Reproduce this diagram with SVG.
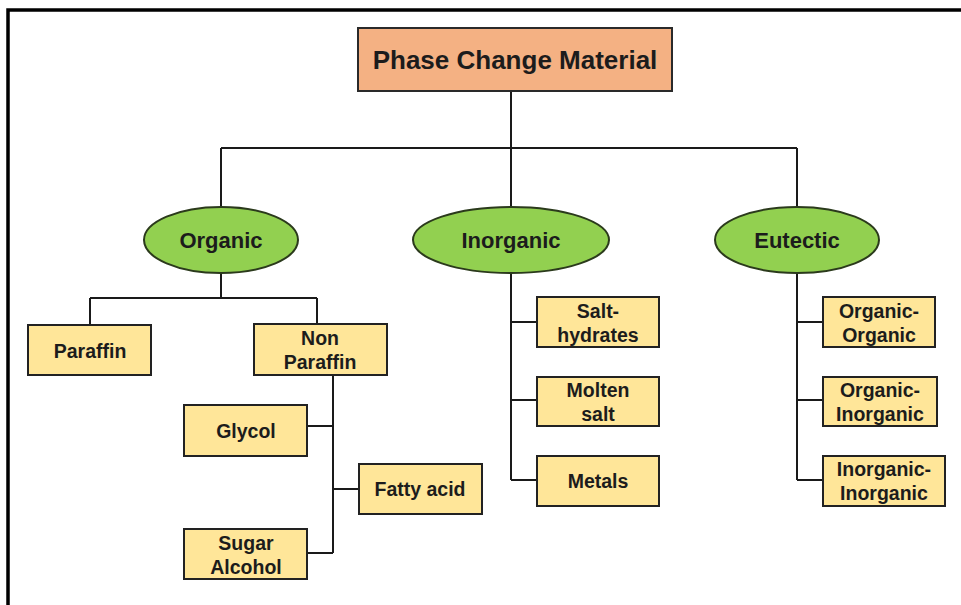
<svg xmlns="http://www.w3.org/2000/svg" width="961" height="605" viewBox="0 0 961 605">
<style>
.frame{fill:none;stroke:#000;stroke-width:3.5}
.top{fill:#F4B183;stroke:#2a2a2a;stroke-width:2}
.ell{fill:#92D050;stroke:#2b3a1c;stroke-width:2}
.box{fill:#FFE699;stroke:#222;stroke-width:2}
.ln{fill:none;stroke:#1a1a1a;stroke-width:2}
text{font-family:"Liberation Sans",Arial,sans-serif;font-weight:bold;fill:#1c1c1c;text-anchor:middle}
.t1{font-size:26px}
.t2{font-size:22px}
.t3{font-size:19.5px}
</style>
<rect width="961" height="605" fill="#fff"/>
<path class="frame" d="M8,605 V10 H961"/>
<g id="connectors">
<path class="ln" d="M511,91 V148 M221,148 H797 M221,148 V207 M511,148 V207 M797,148 V207"/>
<path class="ln" d="M221,273 V298 M90,298 H317 M90,298 V325 M317,298 V324"/>
<path class="ln" d="M333,375 V553 M307,426 H333 M333,489 H359 M307,553 H333"/>
<path class="ln" d="M511,273 V480 M511,322 H537 M511,400 H537 M511,480 H537"/>
<path class="ln" d="M797,273 V480 M797,322 H823 M797,400 H823 M797,480 H823"/>
</g>
<g id="pcm"><rect class="top" x="358" y="28" width="314" height="63"/><text class="t1" x="515" y="69">Phase Change Material</text></g>
<g id="organic"><ellipse class="ell" cx="221" cy="240" rx="77" ry="33"/><text class="t2" x="221" y="248">Organic</text></g>
<g id="inorganic"><ellipse class="ell" cx="511" cy="240" rx="98" ry="33"/><text class="t2" x="511" y="248">Inorganic</text></g>
<g id="eutectic"><ellipse class="ell" cx="797" cy="240" rx="82" ry="33"/><text class="t2" x="797" y="248">Eutectic</text></g>
<g id="paraffin"><rect class="box" x="28" y="325" width="123" height="50"/><text class="t3" x="90" y="358">Paraffin</text></g>
<g id="nonparaffin"><rect class="box" x="254" y="324" width="133" height="51"/><text class="t3" x="320" y="345">Non</text><text class="t3" x="320" y="369">Paraffin</text></g>
<g id="glycol"><rect class="box" x="184" y="405" width="123" height="51"/><text class="t3" x="246" y="438">Glycol</text></g>
<g id="fattyacid"><rect class="box" x="359" y="464" width="123" height="50"/><text class="t3" x="420" y="496">Fatty acid</text></g>
<g id="sugaralcohol"><rect class="box" x="184" y="529" width="123" height="50"/><text class="t3" x="246" y="550">Sugar</text><text class="t3" x="246" y="574">Alcohol</text></g>
<g id="salthydrates"><rect class="box" x="537" y="297" width="122" height="50"/><text class="t3" x="598" y="318">Salt-</text><text class="t3" x="598" y="342">hydrates</text></g>
<g id="moltensalt"><rect class="box" x="537" y="377" width="122" height="49"/><text class="t3" x="598" y="397">Molten</text><text class="t3" x="598" y="421">salt</text></g>
<g id="metals"><rect class="box" x="537" y="456" width="122" height="50"/><text class="t3" x="598" y="488">Metals</text></g>
<g id="orgorg"><rect class="box" x="823" y="297" width="112" height="50"/><text class="t3" x="879" y="318">Organic-</text><text class="t3" x="879" y="342">Organic</text></g>
<g id="orginorg"><rect class="box" x="823" y="377" width="114" height="49"/><text class="t3" x="880" y="397">Organic-</text><text class="t3" x="880" y="421">Inorganic</text></g>
<g id="inorginorg"><rect class="box" x="823" y="456" width="122" height="50"/><text class="t3" x="884" y="476">Inorganic-</text><text class="t3" x="884" y="500">Inorganic</text></g>
</svg>
